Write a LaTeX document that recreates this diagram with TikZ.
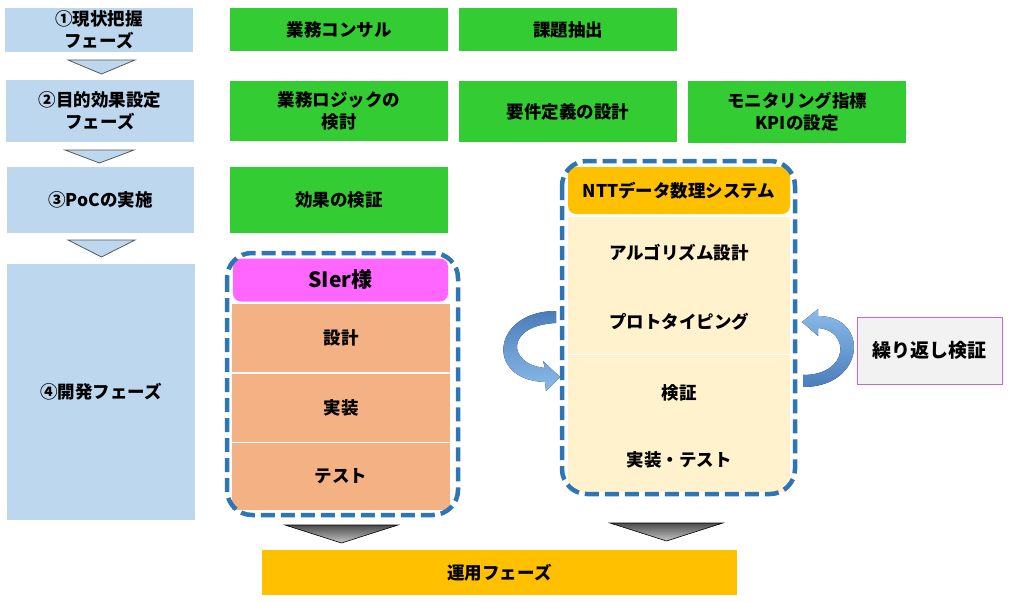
\documentclass[tikz,border=0pt]{standalone}
\usepackage{fontspec}
\setmainfont{Noto Sans CJK JP}
\usetikzlibrary{calc}
\definecolor{phaseblue}{HTML}{BDD7EE}
\definecolor{taskgreen}{HTML}{33CC33}
\definecolor{siepink}{HTML}{FF66FF}
\definecolor{roworange}{HTML}{F4B183}
\definecolor{nttorange}{HTML}{FFC000}
\definecolor{cream}{HTML}{FFF2CC}
\definecolor{dashblue}{HTML}{2E75B6}
\definecolor{opsyellow}{HTML}{FFC000}
\definecolor{loopgray}{HTML}{F2F2F2}
\definecolor{loopedge}{HTML}{CC66CC}
\definecolor{arrowdark}{HTML}{4A7EBB}
\definecolor{arrowlight}{HTML}{8CBBEA}
\begin{document}
\begin{tikzpicture}[x=1pt,y=-1pt,
  box/.style={inner sep=0pt, align=center, text=black,
    font=\fontsize{17.5}{22}\selectfont\bfseries},
  phase/.style={box, fill=phaseblue},
  task/.style={box, fill=taskgreen, minimum width=218},
  rowbox/.style={box, fill=roworange, minimum width=218},
  nttrow/.style={box},
  groupframe/.style={draw=dashblue, line width=4.5pt, dash pattern=on 14pt off 6pt, rounded corners=25pt},
  bluechev/.style={fill=phaseblue, draw=gray!70!black, line width=0.8pt},
  graychev/.style={top color=gray!60!black, bottom color=gray!45, draw=black, line width=0.6pt}
]
\useasboundingbox (0,0) rectangle (1009,602);

% left phase column
\node[phase, minimum width=188, minimum height=44] (p1) at (99,30) {①現状把握\\フェーズ};
\node[phase, minimum width=188, minimum height=62] (p2) at (100,111) {②目的効果設定\\フェーズ};
\node[phase, minimum width=187, minimum height=66] (p3) at (100.5,200) {③PoCの実施};
\node[phase, minimum width=188, minimum height=256] (p4) at (101,392) {④開発フェーズ};

% chevrons between phases
\draw[bluechev] (68,60) -- (135,60) -- (101.5,74) -- cycle;
\draw[bluechev] (65,150) -- (134,150) -- (99.5,163) -- cycle;
\draw[bluechev] (68,240) -- (135,240) -- (101.5,257) -- cycle;

% green task boxes
\node[task, minimum height=43] (g11) at (339,29.5) {業務コンサル};
\node[task, minimum height=43] (g12) at (568,29.5) {課題抽出};
\node[task, minimum height=60] (g21) at (339,111) {業務ロジックの\\検討};
\node[task, minimum height=61] (g22) at (568,111.5) {要件定義の設計};
\node[task, minimum height=62] (g23) at (797,112) {モニタリング指標\\KPIの設定};
\node[task, minimum height=66] (g31) at (339,200) {効果の検証};

% SIer group
\node[box, fill=siepink, rounded corners=8pt, minimum width=215, minimum height=43,
  font=\fontsize{21}{24}\selectfont\bfseries] (sh) at (340.5,280) {SIer様};
\node[rowbox, minimum height=68] (s1) at (341,338) {設計};
\node[rowbox, minimum height=68] (s2) at (341,407.5) {実装};
\node[rowbox, minimum height=67] (s3) at (341,476.5) {テスト};
\draw[groupframe] (227,253) rectangle (458,515);

% NTT group
\node[box, fill=cream, minimum width=222, minimum height=275] (nb) at (679,354.5) {};
\draw[white, line width=1pt] (nb.west |- 0,354) -- (nb.east |- 0,354);
\node[box, fill=nttorange, rounded corners=8pt, minimum width=222, minimum height=47] (nh) at (679,190.5) {NTTデータ数理システム};
\node[nttrow] (n1) at (679,253) {アルゴリズム設計};
\node[nttrow] (n2) at (679,322) {プロトタイピング};
\node[nttrow] (n3) at (679,393) {検証};
\node[nttrow] (n4) at (679,460) {実装・テスト};
\draw[groupframe] (562,161) rectangle (795,494);

% loop label
\node[box, fill=loopgray, draw=loopedge, line width=0.8pt, minimum width=145, minimum height=67,
  font=\fontsize{19}{23}\selectfont\bfseries] (loop) at (929.5,350.5) {繰り返し検証};

% curved arrows
\fill[top color=arrowdark, bottom color=arrowlight]
  (556,311) .. controls (492,311) and (484,380) .. (545,382)
  -- (546,391) -- (560,377) -- (543,361) -- (545,368)
  .. controls (506,364) and (506,325) .. (556,323) -- cycle;
\fill[top color=arrowlight, bottom color=arrowdark]
  (803,387) .. controls (866,387) and (870,316) .. (818,316)
  -- (818,309) -- (802,322) -- (818,336) -- (818,328)
  .. controls (850,330) and (850,375) .. (803,375) -- cycle;

% gray chevrons to operations
\draw[graychev] (285,525) -- (398,525) -- (341.5,543) -- cycle;
\draw[graychev] (610,523) -- (723,523) -- (666.5,541) -- cycle;

% operations phase
\node[box, fill=opsyellow, minimum width=475, minimum height=45] (ops) at (499.5,572.5) {運用フェーズ};
\end{tikzpicture}
\end{document}
